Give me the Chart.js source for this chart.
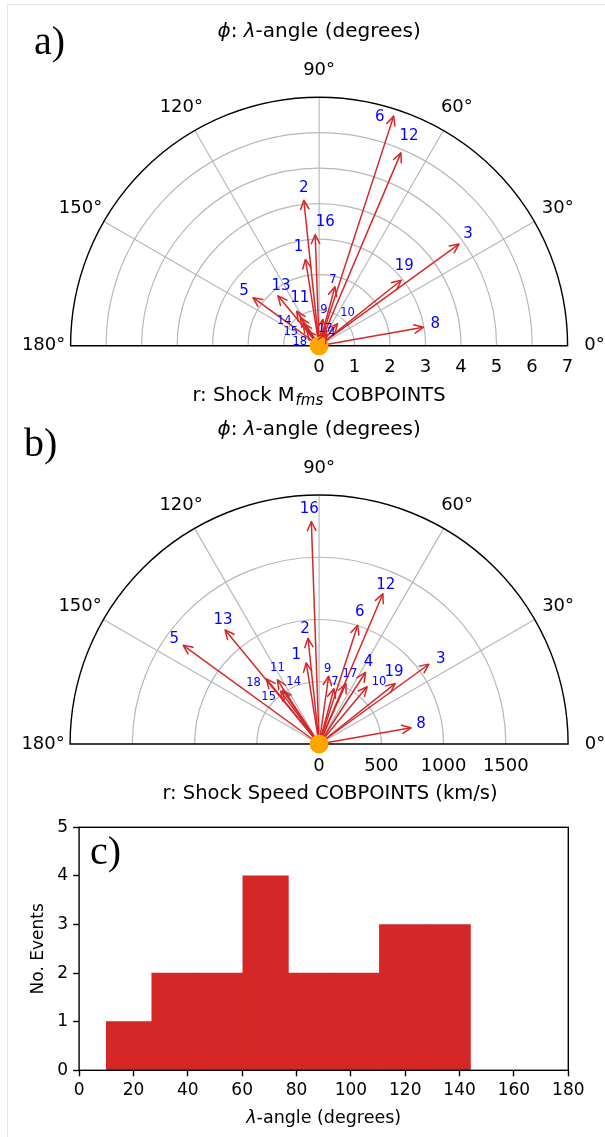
<!DOCTYPE html>
<html>
<head>
<meta charset="utf-8">
<script src="https://cdn.jsdelivr.net/npm/chart.js@4.4.1/dist/chart.umd.min.js"></script>
<style>
body { margin: 0; background: #fff; width: 605px; height: 1137px; position: relative; overflow: hidden; }
canvas { position: absolute; left: 0; }
#edge { position: absolute; left: 7px; top: 4px; width: 700px; height: 1200px; border-left: 1px solid #e6e6e6; border-top: 1px solid #e6e6e6; }
</style>
</head>
<body>
<div id="edge"></div>
<canvas id="chartA" width="605" height="410" style="top:0"></canvas>
<canvas id="chartB" width="605" height="400" style="top:410px"></canvas>
<canvas id="chartC" width="605" height="337" style="top:800px"></canvas>
<script>
// Event numbers and their lambda angle (degrees)
const eventIds = [1, 2, 3, 4, 5, 6, 7, 8, 9, 10, 11, 12, 13, 14, 15, 16, 17, 18, 19];
const lambdaAngle = [99, 96, 36, 57, 144, 72, 75, 10, 82, 50, 123, 67, 129.5, 124, 126, 92, 66, 129, 38.5];

// Radial quantities for each event
const machFms = [2.46, 4.12, 4.87, 0.40, 2.30, 6.80, 1.72, 2.98, 0.75, 0.81, 1.16, 5.90, 1.82, 0.95, 0.78, 3.13, 0.50, 0.55, 2.96];
const shockSpeed = [660, 854, 1090, 685, 1349, 1003, 460, 750, 550, 600, 615, 1311, 1187, 523, 525, 1788, 530, 672, 780];

// Histogram of lambda angle
const histEdges = [10, 26.75, 43.5, 60.25, 77, 93.75, 110.5, 127.25, 144];
const histCounts = [1, 2, 2, 4, 2, 2, 3, 3];

// Tick values
const thetaTicks = [0, 30, 60, 90, 120, 150, 180];
const machTicks = [0, 1, 2, 3, 4, 5, 6, 7];
const speedTicks = [0, 500, 1000, 1500];

const RED = '#d62728';
const BLUE = '#0000ff';
const GRID = '#b8b8b8';
const FONT = '"DejaVu Sans", sans-serif';
const SERIF = '"Liberation Serif", "DejaVu Serif", serif';

Chart.defaults.font.family = FONT;
Chart.defaults.color = '#000';

function fontFor(style, size) {
    if (style === 'i') return 'italic ' + size + 'px ' + FONT;
    if (style === 'sub') return 'italic ' + Math.round(size * 0.75) + 'px ' + FONT;
    return size + 'px ' + FONT;
}

// Draw text made of plain / italic / subscript pieces, centred on (cx, cy)
function drawRich(ctx, parts, cx, cy, size, angle) {
    ctx.save();
    ctx.translate(cx, cy);
    if (angle) ctx.rotate(angle);
    ctx.textBaseline = 'middle';
    ctx.textAlign = 'left';
    ctx.fillStyle = '#000';
    let total = 0;
    const widths = parts.map(([t, s]) => {
        ctx.font = fontFor(s, size);
        const w = ctx.measureText(t).width + (s === 'sub' ? 3 : 0);
        total += w;
        return w;
    });
    let x = -total / 2;
    parts.forEach(([t, s], i) => {
        ctx.font = fontFor(s, size);
        ctx.fillText(t, x + (s === 'sub' ? 1 : 0), s === 'sub' ? size * 0.28 : 0);
        x += widths[i];
    });
    ctx.restore();
}

function drawLetter(ctx, text, x, y) {
    ctx.save();
    ctx.font = '40px ' + SERIF;
    ctx.fillStyle = '#000';
    ctx.textAlign = 'left';
    ctx.textBaseline = 'middle';
    ctx.fillText(text, x, y);
    ctx.restore();
}

// Label placement next to each arrow tip (pixels)
const nudgeA = {1: [-7, -12], 2: [0, -12], 3: [9, -10], 4: [5, -1], 5: [-9, -7], 6: [-14, 1], 7: [-2, -7],
    8: [12, -3], 9: [1, -9], 10: [10, -11], 11: [3, -13], 12: [8, -17], 13: [3, -10], 14: [-16, 3],
    15: [-12, 9], 16: [10, -13], 17: [-1, 0], 18: [-7, 11], 19: [3, -14]};
const nudgeB = {1: [-10, -8], 2: [-3, -9], 3: [12, -5], 4: [3, -10], 5: [-9, -6], 6: [2, -13], 7: [1, -7],
    8: [10, -4], 9: [-1, -7], 10: [12, -5], 11: [0, -12], 12: [3, -9], 13: [-2, -10], 14: [11, -8],
    15: [-12, 6], 16: [-2, -12], 17: [4, -10], 18: [-13, 4], 19: [-1, -11]};
const smallA = [4, 7, 9, 10, 14, 15, 17, 18];
const smallB = [7, 9, 10, 11, 14, 15, 17, 18];

function polarPlugin(opts) {
    return {
        id: 'polarPanel',
        beforeDatasetsDraw(chart) {
            const ctx = chart.ctx;
            const xs = chart.scales.x, ys = chart.scales.y;
            const cx = xs.getPixelForValue(0), cy = ys.getPixelForValue(0);
            const rx = v => xs.getPixelForValue(v) - cx;
            const ry = v => cy - ys.getPixelForValue(v);
            ctx.save();
            ctx.strokeStyle = GRID;
            ctx.lineWidth = 1.2;
            opts.rings.forEach(r => {
                ctx.beginPath();
                ctx.ellipse(cx, cy, rx(r), ry(r), 0, Math.PI, 2 * Math.PI);
                ctx.stroke();
            });
            thetaTicks.forEach(deg => {
                if (deg === 0 || deg === 180) return;
                const t = deg * Math.PI / 180;
                ctx.beginPath();
                ctx.moveTo(cx, cy);
                ctx.lineTo(cx + rx(opts.rMax) * Math.cos(t), cy - ry(opts.rMax) * Math.sin(t));
                ctx.stroke();
            });
            ctx.strokeStyle = '#000';
            ctx.lineWidth = 1.4;
            ctx.beginPath();
            ctx.ellipse(cx, cy, rx(opts.rMax), ry(opts.rMax), 0, Math.PI, 2 * Math.PI);
            ctx.closePath();
            ctx.stroke();
            ctx.restore();
        },
        afterDatasetsDraw(chart) {
            const ctx = chart.ctx;
            ctx.save();
            ctx.strokeStyle = RED;
            ctx.lineWidth = 1.5;
            ctx.lineCap = 'round';
            ctx.lineJoin = 'round';
            eventIds.forEach((id, i) => {
                const pts = chart.getDatasetMeta(i + 1).data;
                const a = pts[0], b = pts[1];
                const ang = Math.atan2(b.y - a.y, b.x - a.x);
                const c = Math.cos(ang), s = Math.sin(ang);
                const L = 9, W = 4.2;
                ctx.beginPath();
                ctx.moveTo(b.x - L * c + W * s, b.y - L * s - W * c);
                ctx.lineTo(b.x, b.y);
                ctx.lineTo(b.x - L * c - W * s, b.y - L * s + W * c);
                ctx.stroke();
            });
            ctx.fillStyle = BLUE;
            ctx.textAlign = 'center';
            ctx.textBaseline = 'middle';
            eventIds.forEach((id, i) => {
                const b = chart.getDatasetMeta(i + 1).data[1];
                const n = opts.nudges[id];
                ctx.font = (opts.small.includes(id) ? 11.5 : 15) + 'px ' + FONT;
                ctx.fillText(String(id), b.x + n[0], b.y + n[1]);
            });
            ctx.restore();
        },
        afterDraw(chart) {
            const ctx = chart.ctx;
            const xs = chart.scales.x, ys = chart.scales.y;
            const cx = xs.getPixelForValue(0), cy = ys.getPixelForValue(0);
            const Rx = xs.getPixelForValue(opts.rMax) - cx;
            const Ry = cy - ys.getPixelForValue(opts.rMax);
            ctx.save();
            ctx.fillStyle = '#000';
            ctx.textAlign = 'center';
            ctx.textBaseline = 'middle';
            ctx.font = '18px ' + FONT;
            thetaTicks.forEach(deg => {
                const t = deg * Math.PI / 180;
                ctx.fillText(deg + '°', cx + (Rx + 27) * Math.cos(t), cy - (Ry + 27) * Math.sin(t));
            });
            opts.rTicks.forEach(v => {
                ctx.fillText(String(v), xs.getPixelForValue(v), cy + 22);
            });
            ctx.restore();
            drawRich(ctx, [['ϕ', 'i'], [': ', ''], ['λ', 'i'], ['-angle (degrees)', '']], cx, opts.titleY, 20);
            drawRich(ctx, opts.xlabel, opts.xlabelX, cy + 50, 19.5);
            drawLetter(ctx, opts.letter, opts.letterX, opts.letterY);
        }
    };
}

function polarDatasets(values) {
    const sets = [{
        data: [{x: 0, y: 0}],
        pointRadius: 9.5,
        pointBackgroundColor: '#ffa500',
        pointBorderWidth: 0,
        order: 0,
        clip: false
    }];
    eventIds.forEach((id, i) => {
        const t = lambdaAngle[i] * Math.PI / 180;
        sets.push({
            label: String(id),
            data: [{x: 0, y: 0}, {x: values[i] * Math.cos(t), y: values[i] * Math.sin(t)}],
            showLine: true,
            borderColor: RED,
            borderWidth: 1.5,
            pointRadius: 0,
            order: 1,
            clip: false
        });
    });
    return sets;
}

function polarChart(id, values, rMax, padding, plugin) {
    return new Chart(document.getElementById(id), {
        type: 'scatter',
        data: {datasets: polarDatasets(values)},
        options: {
            responsive: false,
            animation: false,
            events: [],
            layout: {padding: padding},
            plugins: {legend: {display: false}, tooltip: {enabled: false}},
            scales: {
                x: {type: 'linear', min: -rMax, max: rMax, display: false},
                y: {type: 'linear', min: 0, max: rMax, display: false}
            }
        },
        plugins: [plugin]
    });
}

// a) Mach number polar view
polarChart('chartA', machFms, 7, {left: 70.6, right: 37.4, top: 97.2, bottom: 64.3}, polarPlugin({
    rMax: 7, rings: [1, 2, 3, 4, 5, 6], rTicks: machTicks,
    nudges: nudgeA, small: smallA, titleY: 32,
    xlabel: [['r: Shock M', ''], ['fms', 'sub'], [' COBPOINTS', '']], xlabelX: 319,
    letter: 'a)', letterX: 34, letterY: 43
}));

// b) Shock speed polar view
polarChart('chartB', shockSpeed, 2000, {left: 70.1, right: 36.9, top: 85, bottom: 66}, polarPlugin({
    rMax: 2000, rings: [500, 1000, 1500], rTicks: speedTicks,
    nudges: nudgeB, small: smallB, titleY: 20,
    xlabel: [['r: Shock Speed COBPOINTS (km/s)', '']], xlabelX: 330,
    letter: 'b)', letterX: 24, letterY: 35
}));

// c) Histogram of lambda angle
const histData = histCounts.map((c, i) => ({x: (histEdges[i] + histEdges[i + 1]) / 2, y: c}));

new Chart(document.getElementById('chartC'), {
    type: 'bar',
    data: {
        datasets: [{
            data: histData,
            backgroundColor: RED,
            borderWidth: 0,
            barPercentage: 1,
            categoryPercentage: 1
        }]
    },
    options: {
        responsive: false,
        animation: false,
        events: [],
        layout: {padding: {left: 0, right: 36.7, top: 27.3, bottom: 0}},
        plugins: {legend: {display: false}, tooltip: {enabled: false}},
        scales: {
            x: {
                type: 'linear', min: 0, max: 180, offset: false,
                ticks: {stepSize: 20, font: {size: 17}, padding: 4, maxRotation: 0},
                grid: {offset: false, drawOnChartArea: false, tickLength: 6, tickColor: '#000', tickWidth: 1.4},
                border: {display: false},
                afterFit: s => { s.height = 66.7; }
            },
            y: {
                min: 0, max: 5,
                ticks: {stepSize: 1, font: {size: 17}, padding: 5},
                grid: {drawOnChartArea: false, tickLength: 6, tickColor: '#000', tickWidth: 1.4},
                border: {display: false},
                afterFit: s => { s.width = 79.1; }
            }
        }
    },
    plugins: [{
        id: 'histFrame',
        afterDraw(chart) {
            const ctx = chart.ctx;
            const a = chart.chartArea;
            ctx.save();
            ctx.strokeStyle = '#000';
            ctx.lineWidth = 1.4;
            ctx.strokeRect(a.left, a.top, a.right - a.left, a.bottom - a.top);
            ctx.restore();
            drawRich(ctx, [['λ', 'i'], ['-angle (degrees)', '']], (a.left + a.right) / 2, 318, 17.5);
            drawRich(ctx, [['No. Events', '']], 38.6, (a.top + a.bottom) / 2, 17, -Math.PI / 2);
            drawLetter(ctx, 'c)', 90, 53);
        }
    }]
});
</script>
</body>
</html>
